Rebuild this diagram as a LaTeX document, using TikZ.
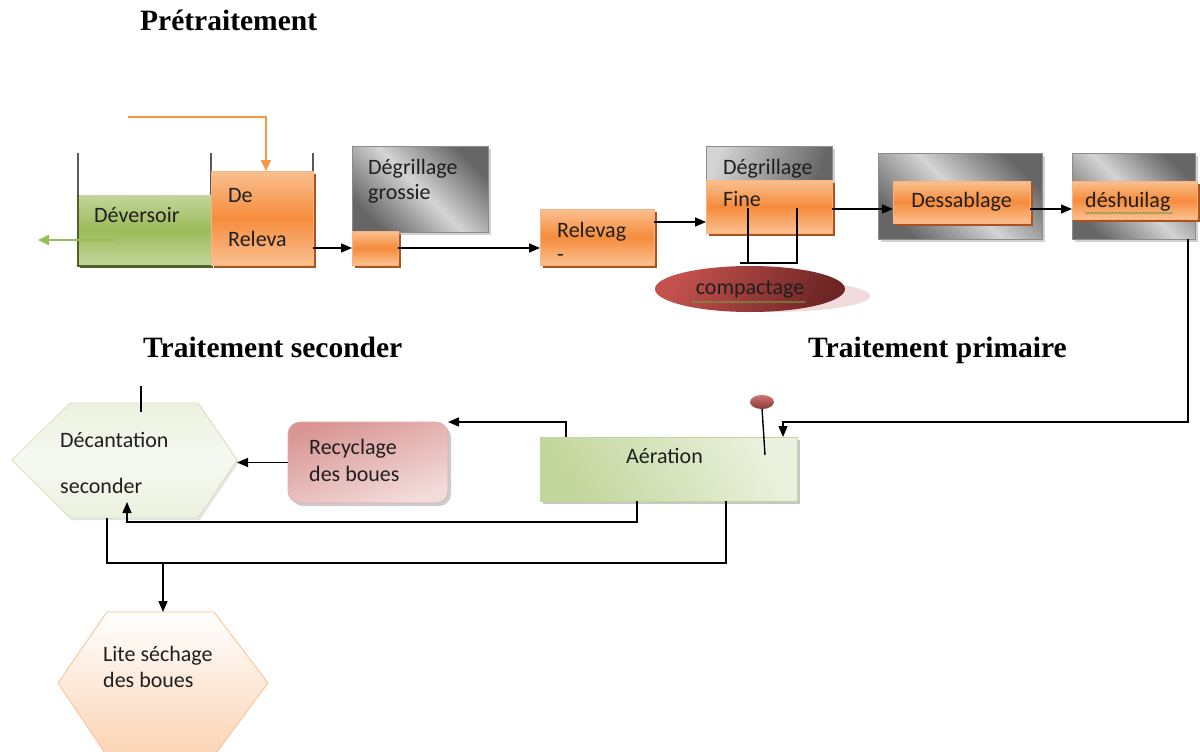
\documentclass[tikz,border=0pt]{standalone}
\usepackage{fontspec}
\setmainfont{Carlito}
\newfontfamily\headfont{Liberation Serif}
\usetikzlibrary{arrows.meta,calc,shadows,shadings,shapes.geometric,decorations.pathmorphing}
\definecolor{orL}{HTML}{FAC090}
\definecolor{orM}{HTML}{F68C3C}
\definecolor{orB}{HTML}{F9B383}
\definecolor{orS}{HTML}{A8541C}
\definecolor{orLine}{HTML}{F79646}
\definecolor{gnL}{HTML}{C3D69B}
\definecolor{gnM}{HTML}{9BBB59}
\definecolor{gnD}{HTML}{4F6228}
\definecolor{gnP}{HTML}{EBF1DE}
\definecolor{gnB}{HTML}{D7E4BD}
\definecolor{grD}{HTML}{666666}
\definecolor{grL}{HTML}{D4D4D4}
\definecolor{grB}{HTML}{8C8C8C}
\definecolor{pkD}{HTML}{D99694}
\definecolor{pkL}{HTML}{F2DCDB}
\definecolor{rdL}{HTML}{C4514E}
\definecolor{rdD}{HTML}{6E2624}
\definecolor{pcL}{HTML}{FBD4B4}
\definecolor{pcB}{HTML}{FAC08F}
\definecolor{wall}{HTML}{595959}
\begin{document}
\begin{tikzpicture}[x=1pt,y=-1pt,
  txt/.style={font=\fontsize{22}{25}\selectfont, anchor=base west, inner sep=0pt, text=black!88},
  head/.style={font=\headfont\bfseries\fontsize{29.5}{33}\selectfont, anchor=base west, inner sep=0pt},
  boxbase/.style={anchor=north west, inner sep=0pt, outer sep=0pt},
  orbox/.style={boxbase, draw=orB, line width=0.8pt, top color=orL, bottom color=orL, middle color=orM,
     drop shadow={shadow xshift=3pt, shadow yshift=-3pt, fill=orS, opacity=1}},
  grbox/.style={boxbase, draw=grB, line width=1pt, top color=grD, bottom color=grD, middle color=grL, shading angle=-45,
     drop shadow={shadow xshift=3pt, shadow yshift=-3pt, fill=black!18, opacity=1}},
  arr/.style={-{Triangle[length=11pt,width=9pt]}, line width=1.4pt, black},
  ln/.style={line width=1.4pt, black},
  wavy/.style={decorate, decoration={snake, amplitude=0.8pt, segment length=3pt}, gnM!80!black, line width=0.7pt}
]
\useasboundingbox (0,0) rectangle (1200,752);
\fill[white] (0,0) rectangle (1200,752);

% headings
\node[head] (h1) at (140,31) {Prétraitement};
\node[head] (h2) at (143,357) {Traitement seconder};
\node[head] (h3) at (808,357) {Traitement primaire};

% tank walls
\draw[wall, line width=1.8pt] (78,153) -- (78,266);
\draw[wall, line width=1.8pt] (211,153) -- (211,266);
\draw[wall, line width=1.8pt] (313,153) -- (313,266);

% Deversoir
\node[boxbase, draw=gnL, line width=0.8pt, top color=gnL, bottom color=gnL, middle color=gnM,
  drop shadow={shadow xshift=2pt, shadow yshift=-3pt, fill=gnD, opacity=1},
  minimum width=133pt, minimum height=70pt] (dev) at (78,195) {};
\draw[gnD, line width=1.8pt] (78,195) -- (78,266) -- (211,266);
\node[txt] (tdev) at (94,222) {Déversoir};
\coordinate (dvin) at (115,240);
\coordinate (dvout) at (38,240);
\draw[gnM, line width=1.8pt, -{Triangle[length=11pt,width=10pt]}] (dvin) -- (dvout);

% De Releva
\node[orbox, minimum width=102pt, minimum height=94pt] (rel1) at (211,171) {};
\node[txt] (tde) at (228,202) {De};
\node[txt] (trel) at (228,246) {Releva};
\coordinate (oin) at (128,117);
\draw[orLine, line width=1.4pt, -{Triangle[length=11pt,width=10pt]}] (oin) -| ($(rel1.north)+(4,0)$);

% Degrillage grossie
\node[grbox, minimum width=136pt, minimum height=86pt] (gg) at (352,146) {};
\node[txt] (tgg1) at (368,174) {Dégrillage};
\node[txt] (tgg2) at (368,199) {grossie};
\node[orbox, minimum width=46pt, minimum height=34pt] (sob) at (352,231) {};
\draw[arr] (rel1.east |- sob.west) -- (sob.west);

% Relevage
\node[orbox, minimum width=114pt, minimum height=56pt] (relv) at (540,209) {};
\node[txt] (trv1) at (557,237) {Relevag};
\node[txt] (trv2) at (557,261) {-};
\draw[arr] (sob.east) -- (relv.west |- sob.east);

% Degrillage fine
\node[boxbase, draw=grB, line width=1pt, left color=grL, right color=grD, shading angle=70,
  drop shadow={shadow xshift=3pt, shadow yshift=-3pt, fill=black!18, opacity=1},
  minimum width=126pt, minimum height=36pt] (dfg) at (706,146) {};
\node[txt] (tdf1) at (723,174) {Dégrillage};
\node[orbox, minimum width=126pt, minimum height=53pt] (dfo) at (706,180) {};
\node[txt] (tdf2) at (723,206) {Fine};
\coordinate (rva) at ($(relv.north east)+(0,13)$);
\draw[arr] (rva) -- (dfo.west |- rva);

% compactage
\fill[pkL] (772,296) ellipse [x radius=98, y radius=16];
\node[ellipse, inner sep=0pt, minimum width=190pt, minimum height=46pt, left color=rdL, right color=rdD, shading angle=60,
  font=\fontsize{22}{25}\selectfont, text=black!88] (comp) at (750,289) {compactage};
\draw[wavy] (692,302) -- (806,302);
\coordinate (f1) at (748,208);
\coordinate (f2) at (797,208);
\coordinate (cn) at (740,263);
\draw[ln] (cn) -| (f1);
\draw[ln] (cn) -| (f2);

% Dessablage
\node[grbox, minimum width=164pt, minimum height=86pt] (dsg) at (878,153) {};
\node[orbox, minimum width=137pt, minimum height=42pt, font=\fontsize{22}{25}\selectfont, text=black!88] (dso) at (893,181) {Dessablage};
\coordinate (dsa) at ($(dso.west)+(0,7)$);
\draw[arr] (dfo.east |- dsa) -- (dsa);

% Deshuilage
\node[grbox, minimum width=123pt, minimum height=86pt] (dhg) at (1072,153) {};
\node[orbox, minimum width=125pt, minimum height=38pt] (dho) at (1072,181) {};
\node[txt] (tdh) at (1085,207) {déshuilag};
\draw[wavy] (1085,213) -- (1173,213);
\draw[arr] (dso.east |- dsa) -- (dho.west |- dsa);

% Aeration
\node[boxbase, draw=gnL, line width=0.8pt, left color=gnL, right color=gnP, shading angle=120,
  drop shadow={shadow xshift=3pt, shadow yshift=-3pt, fill=black!22, opacity=1},
  minimum width=257pt, minimum height=64pt] (aer) at (540,437) {};
\node[txt] (taer) at (626,463) {Aération};
\coordinate (t1) at ($(dhg.south east)+(-7,0)$);
\coordinate (t2) at ($(aer.north east)+(-14,0)$);
\draw[arr] (t1) |- ($(t2)+(0,-15)$) -- (t2);

% pin
\draw[ln] (762,408) -- (765,455);
\shade[top color=rdL!80!white, bottom color=rdL!70!black] (762,402) ellipse [x radius=12, y radius=7];

% Recyclage
\node[boxbase, rounded corners=12pt, draw=pkD!80, line width=0.6pt, top color=pkD, bottom color=pkL, shading angle=20,
  drop shadow={shadow xshift=3pt, shadow yshift=-3pt, fill=black!20, opacity=1},
  minimum width=160pt, minimum height=81pt] (rec) at (288,422) {};
\node[txt] (trec1) at (309,454) {Recyclage};
\node[txt] (trec2) at (309,481) {des boues};
\coordinate (a1) at ($(aer.north west)+(26,0)$);
\draw[arr] (a1) |- (rec.north east);

% Decantation hexagon
\coordinate (dw) at (12,460);
\coordinate (dnw) at (70,403);
\coordinate (dne) at (198,403);
\coordinate (de) at (237,460);
\coordinate (dse) at (198,518);
\coordinate (dsw) at (70,518);
\shade[top color=gnP, bottom color=gnP, middle color=gnP!40!white, draw=gnB, line width=0.8pt,
  drop shadow={shadow xshift=2pt, shadow yshift=-2pt, fill=black!10, opacity=1}]
  (dw) -- (dnw) -- (dne) -- (de) -- (dse) -- (dsw) -- cycle;
\node[txt] (tdec1) at (60,447) {Décantation};
\node[txt] (tdec2) at (60,493) {seconder};
\draw[ln, line width=2pt] (141,386) -- (141,412);
\draw[arr] (rec.west) -- (rec.west -| de);

\coordinate (b1) at ($(aer.south west)+(97,0)$);
\coordinate (dbin) at (127,502);
\draw[arr] (b1) |- ($(dbin)+(0,20)$) -- (dbin);

\coordinate (b2) at ($(aer.south west)+(186,0)$);
\coordinate (dbot) at (107,518);
\draw[ln] (b2) -- ++(0,62) -| (dbot);

% Lite sechage hexagon
\coordinate (lw) at (58,683);
\coordinate (lnw) at (107,612);
\coordinate (lne) at (214,612);
\coordinate (le) at (268,683);
\coordinate (lse) at (214,756);
\coordinate (lsw) at (107,756);
\shade[top color=white, bottom color=pcL, draw=pcB, line width=0.8pt]
  (lw) -- (lnw) -- (lne) -- (le) -- (lse) -- (lsw) -- cycle;
\node[txt] (tl1) at (103,661) {Lite séchage};
\node[txt] (tl2) at (103,687) {des boues};
\coordinate (j) at (163,563);
\draw[arr] (j) -- (j |- lne);
\end{tikzpicture}
\end{document}
